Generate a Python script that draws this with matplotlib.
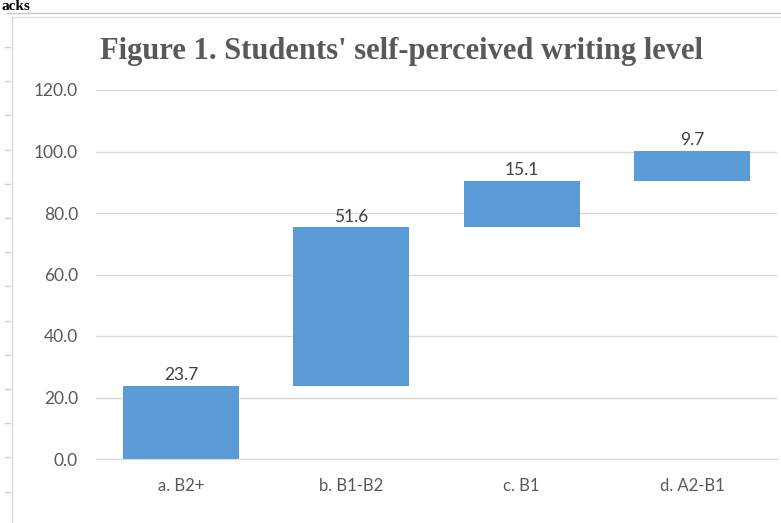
import matplotlib
matplotlib.use("Agg")
import matplotlib.pyplot as plt
from matplotlib.lines import Line2D
import numpy as np

categories = ["a. B2+", "b. B1-B2", "c. B1", "d. A2-B1"]
values = [23.7, 51.6, 15.1, 9.7]
y_ticks = [0, 20, 40, 60, 80, 100, 120]
title = "Figure 1. Students' self-perceived writing level"

W, H = 781, 523
fig = plt.figure(figsize=(W / 100, H / 100), dpi=100)

def fx(px):
    return px / W

def fy(py):
    return 1 - py / H

# document artifacts: top rule, chart border, left ruler ticks
fig.add_artist(Line2D([fx(7), 1], [fy(13), fy(13)], color="#c8c8c8", lw=1))
fig.add_artist(Line2D([fx(12), 1], [fy(17), fy(17)], color="#e0e0e0", lw=1))
fig.add_artist(Line2D([fx(12), fx(12)], [fy(17), 0], color="#d9d9d9", lw=1))
for k in range(14):
    yy = 47 + 34.2 * k
    if yy < H:
        fig.add_artist(Line2D([fx(5), fx(10)], [fy(yy), fy(yy)], color="#d0d0d0", lw=1))

fig.text(fx(1), fy(0.5), "acks", family="Liberation Serif", fontweight="bold",
         fontsize=11, color="black", ha="left", va="top")

fig.text(fx(401), fy(59), title, family="Liberation Serif", fontweight="bold",
         fontsize=22, color="#595959", ha="center", va="baseline")

ax = fig.add_axes([fx(96), fy(459), fx(777) - fx(96), fy(90) - fy(459)])

vals = np.array(values)
bottoms = np.concatenate([[0], np.cumsum(vals)[:-1]])
x = np.arange(len(categories))
ax.bar(x, vals, bottom=bottoms, width=0.68, color="#5b9bd5", zorder=3)

for xi, b, v in zip(x, bottoms, vals):
    ax.annotate(f"{v:.1f}", (xi, b + v), xytext=(0, 2), textcoords="offset points",
                ha="center", va="bottom", fontsize=12.5, color="#404040", family="Lato")

ax.set_xlim(-0.5, len(categories) - 0.5)
ax.set_ylim(0, 120)
ax.set_yticks(y_ticks)
ax.set_yticklabels([f"{t:.1f}" for t in y_ticks], family="Lato", fontsize=12.5, color="#595959")
ax.set_xticks(x)
ax.set_xticklabels(categories, family="Lato", fontsize=12, color="#595959")
ax.tick_params(axis="both", length=0)
ax.tick_params(axis="y", pad=13)
ax.tick_params(axis="x", pad=14)
ax.grid(axis="y", color="#d9d9d9", lw=1, zorder=0)
for s in ["left", "right", "top"]:
    ax.spines[s].set_visible(False)
ax.spines["bottom"].set_color("#d9d9d9")
ax.spines["bottom"].set_zorder(4)

fig.savefig("out.png", dpi=100)
